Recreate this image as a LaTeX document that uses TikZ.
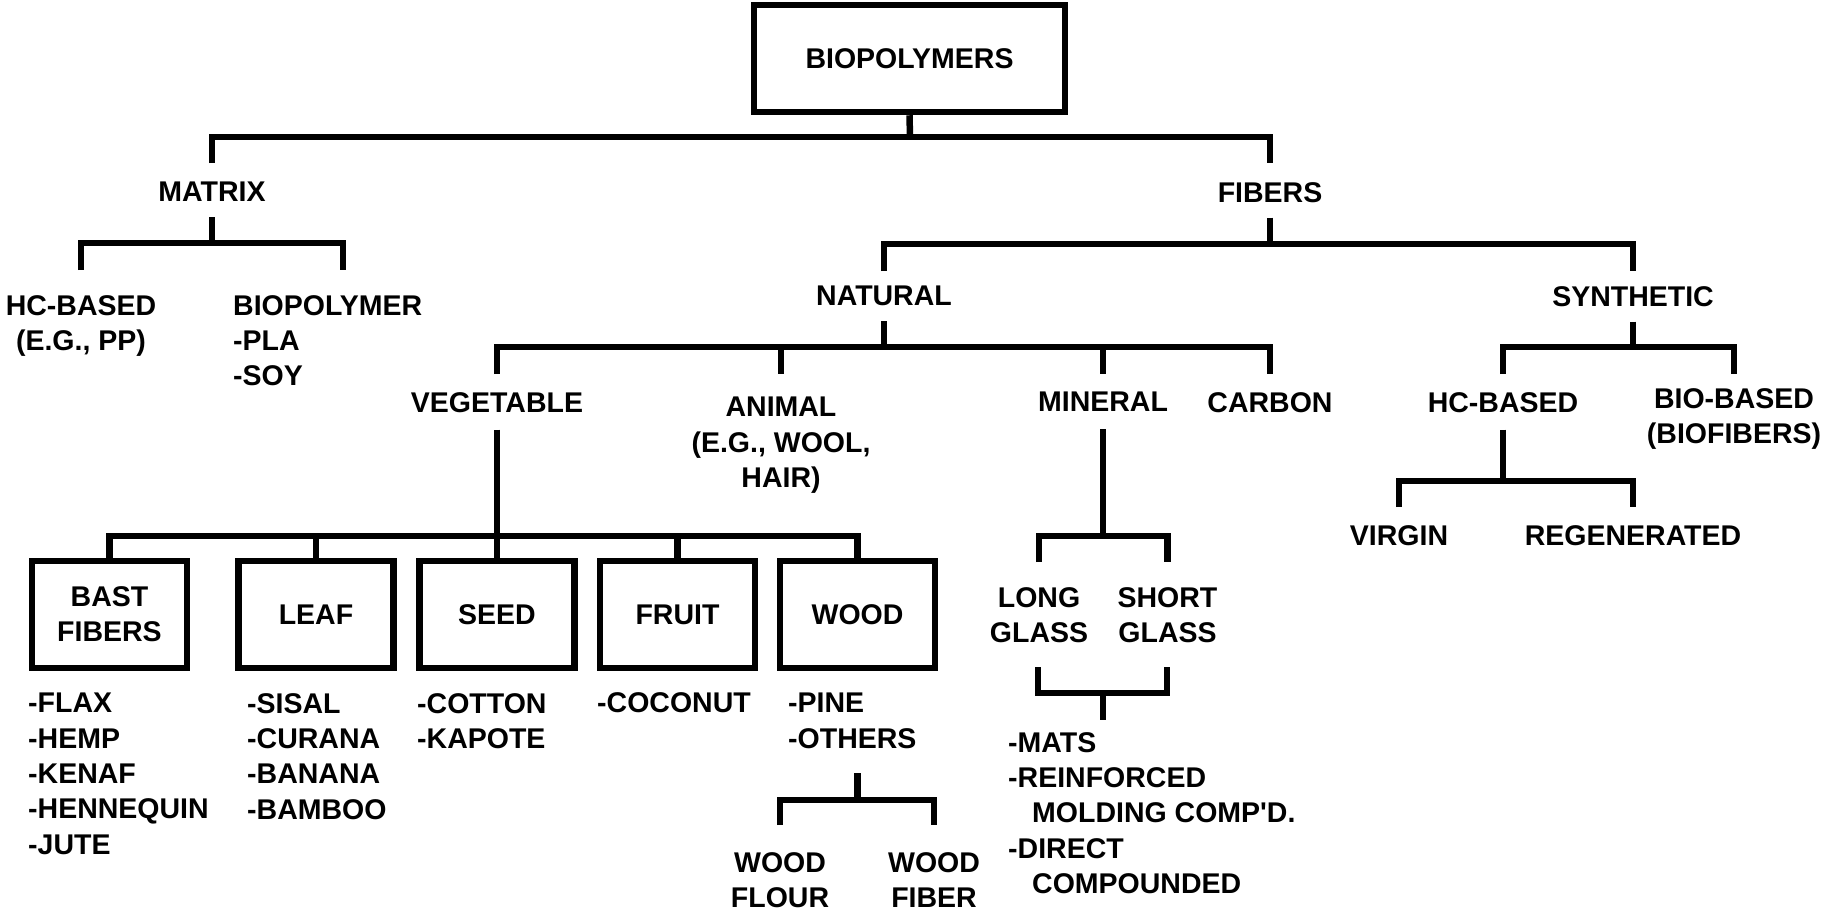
\documentclass[tikz,border=0pt]{standalone}
\usepackage{fontspec}
\setmainfont{Liberation Sans}[Ligatures=TeXOff]
\begin{document}
\begin{tikzpicture}[x=1pt,y=-1pt,
  conn/.style={line width=6.5pt, line join=miter},
  txt/.style={font=\fontsize{28.5pt}{35.3pt}\selectfont\bfseries},
  lbl/.style={txt, inner sep=0pt, anchor=north, align=center},
  lst/.style={txt, inner sep=0pt, anchor=north west, align=left},
  catbox/.style={txt, draw, line width=6.5pt, minimum width=155pt, minimum height=107pt, inner sep=0pt, align=center}]
\useasboundingbox (0,0) rectangle (1822,911);

% boxes
\node[catbox, minimum width=311pt] (root) at (909.5,58.5) {BIOPOLYMERS};
\node[catbox] (bast)  at (109.5,614.5) {BAST\\FIBERS};
\node[catbox] (leaf)  at (316,614.5) {LEAF};
\node[catbox] (seed)  at (497,614.5) {SEED};
\node[catbox] (fruit) at (677.5,614.5) {FRUIT};
\node[catbox] (wood)  at (857.5,614.5) {WOOD};

% labels
\node[lbl] (matrix) at (212,182) {MATRIX};
\node[lbl] (fibers) at (1270,182) {FIBERS};
\node[lbl] (hcm) at (81,295) {HC-BASED\\(E.G., PP)};
\node[lst] (biop) at (233,295) {BIOPOLYMER\\-PLA\\-SOY};
\node[lbl] (natural) at (884,286) {NATURAL};
\node[lbl] (synthetic) at (1633,286) {SYNTHETIC};
\node[lbl] (vegetable) at (497,392) {VEGETABLE};
\node[lbl] (animal) at (781,397) {ANIMAL\\(E.G., WOOL,\\HAIR)};
\node[lbl] (mineral) at (1103,392) {MINERAL};
\node[lbl] (carbon) at (1270,392) {CARBON};
\node[lbl] (hcs) at (1503,392) {HC-BASED};
\node[lbl] (biobased) at (1734,388) {BIO-BASED\\(BIOFIBERS)};
\node[lbl] (virgin) at (1399,525) {VIRGIN};
\node[lbl] (regen) at (1633,525) {REGENERATED};
\node[lbl] (long) at (1039,587) {LONG\\GLASS};
\node[lbl] (short) at (1167.5,587) {SHORT\\GLASS};
\node[lst] (glasslist) at (1008,732) {-MATS\\-REINFORCED\\\hspace*{24pt}MOLDING COMP'D.\\-DIRECT\\\hspace*{24pt}COMPOUNDED};
\node[lst] (bastlist) at (28,693) {-FLAX\\-HEMP\\-KENAF\\-HENNEQUIN\\-JUTE};
\node[lst] (leaflist) at (247,693) {-SISAL\\-CURANA\\-BANANA\\-BAMBOO};
\node[lst] (seedlist) at (417,693) {-COTTON\\-KAPOTE};
\node[lst] (fruitlist) at (597,692) {-COCONUT};
\node[lst] (woodlist) at (788,693) {-PINE\\-OTHERS};
\node[lbl] (flour) at (780,852) {WOOD\\FLOUR};
\node[lbl] (wfiber) at (934,852) {WOOD\\FIBER};

% junction coordinates
\coordinate (j1) at (910,137);
\coordinate (jm) at (212,243);
\coordinate (jf) at (1270,244);
\coordinate (jn) at (884,347);
\coordinate (js) at (1633,347);
\coordinate (jh) at (1503,481);
\coordinate (jv) at (497,536);
\coordinate (ji) at (1103,536);
\coordinate (jg) at (1103,693);
\coordinate (jw) at (857.5,800);
\coordinate (wtop) at (857.5,773);
\coordinate (gl) at (1038,667);
\coordinate (gs) at (1167,667);
\coordinate (gend) at (1103,720);
\coordinate (bpdrop) at (343,270);

% connectors
\draw[conn] (root.south) -- (j1);
\draw[conn] ([yshift=19pt]matrix.north) |- (j1) -| ([yshift=19pt]fibers.north);
\draw[conn] ([yshift=-15pt]matrix.south) -- (jm);
\draw[conn] ([yshift=25pt]hcm.north) |- (jm) -| (bpdrop);
\draw[conn] ([yshift=-15pt]fibers.south) -- (jf);
\draw[conn] ([yshift=15pt]natural.north) |- (jf) -| ([yshift=15pt]synthetic.north);
\draw[conn] ([yshift=-15pt]natural.south) -- (jn);
\draw[conn] ([yshift=18pt]vegetable.north) |- (jn) -| ([yshift=18pt]carbon.north);
\draw[conn] (jn -| animal.north) -- ([yshift=23pt]animal.north);
\draw[conn] (jn -| mineral.north) -- ([yshift=18pt]mineral.north);
\draw[conn] ([yshift=-15pt]synthetic.south) -- (js);
\draw[conn] ([yshift=18pt]hcs.north) |- (js) -| ([yshift=14pt]biobased.north);
\draw[conn] ([yshift=-17pt]hcs.south) -- (jh);
\draw[conn] ([yshift=18pt]virgin.north) |- (jh) -| ([yshift=18pt]regen.north);
\draw[conn] ([yshift=-17pt]vegetable.south) -- (seed.north);
\draw[conn] (bast.north) |- (jv) -| (wood.north);
\draw[conn] (leaf.north) -- (jv -| leaf.north);
\draw[conn] (fruit.north) -- (jv -| fruit.north);
\draw[conn] ([yshift=-17pt]mineral.south) -- (ji);
\draw[conn] ([yshift=25pt]long.north) |- (ji) -| ([yshift=25pt]short.north);
\draw[conn] (gl) |- (jg) -| (gs);
\draw[conn] (jg) -- (gend);
\draw[conn] (wtop) -- (jw);
\draw[conn] ([yshift=27pt]flour.north) |- (jw) -| ([yshift=27pt]wfiber.north);
\end{tikzpicture}
\end{document}
